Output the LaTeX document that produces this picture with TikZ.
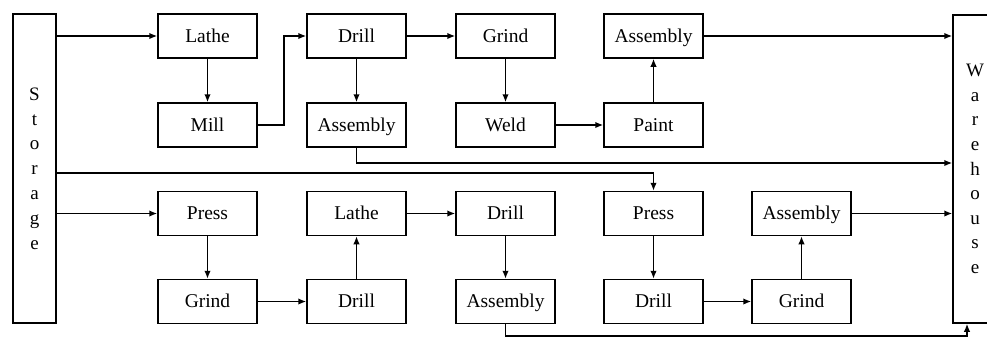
\documentclass[tikz,border=0pt]{standalone}
\usepackage{fontspec}
\setmainfont{Liberation Serif}
\usetikzlibrary{arrows.meta}
\begin{document}
\begin{tikzpicture}[x=1pt,y=-1pt,
  box/.style={draw, line width=1.5pt, minimum width=99pt, minimum height=44pt, inner sep=0pt, text height=14.5pt, text depth=2pt, font=\fontsize{19.5}{21}\selectfont},
  tall/.style={draw, line width=1.5pt, inner sep=0pt, align=center},
  arr/.style={line width=1.5pt, -{Latex[length=8pt,width=6.5pt]}}]
\useasboundingbox (0,0) rectangle (987,338);
\clip (0,0) rectangle (987,338);
% storage and warehouse
\node[tall, minimum width=43pt, minimum height=309pt, font=\fontsize{19}{24.8}\selectfont] (st) at (34.5,168.5) {S\\t\\o\\r\\a\\g\\e};
\node[tall, minimum width=44pt, minimum height=308pt, font=\fontsize{19}{24.6}\selectfont] (wh) at (975,169) {W\\a\\r\\e\\h\\o\\u\\s\\e};
% row 1
\node[box] (L1) at (207.5,36) {Lathe};
\node[box] (D1) at (356.5,36) {Drill};
\node[box] (G1) at (505.5,36) {Grind};
\node[box] (A1) at (653.5,36) {Assembly};
% row 2
\node[box] (M2) at (207.5,125) {Mill};
\node[box] (A2) at (356.5,125) {Assembly};
\node[box] (W2) at (505.5,125) {Weld};
\node[box] (P2) at (653.5,125) {Paint};
% row 3
\node[box] (P3) at (207.5,213.5) {Press};
\node[box] (L3) at (356.5,213.5) {Lathe};
\node[box] (D3) at (505.5,213.5) {Drill};
\node[box] (Q3) at (653.5,213.5) {Press};
\node[box] (A3) at (801.5,213.5) {Assembly};
% row 4
\node[box] (G4) at (207.5,301.5) {Grind};
\node[box] (D4) at (356.5,301.5) {Drill};
\node[box] (A4) at (505.5,301.5) {Assembly};
\node[box] (R4) at (653.5,301.5) {Drill};
\node[box] (G5) at (801.5,301.5) {Grind};
% helper coordinates
\coordinate (y163) at (0,163);
\coordinate (y173) at (0,173);
\coordinate (bot) at (967,336);
% top line
\draw[arr] (st.east |- L1.west) -- (L1.west);
\draw[arr] (L1) -- (M2);
\draw[arr] (M2.east) -- ++(26,0) |- (D1.west);
\draw[arr] (D1) -- (G1);
\draw[arr] (D1) -- (A2);
\draw[arr] (G1) -- (W2);
\draw[arr] (W2) -- (P2);
\draw[arr] (P2) -- (A1);
\draw[arr] (A1.east) -- (wh.west |- A1.east);
\draw[arr] (A2.south) |- (wh.west |- y163);
% bottom line
\draw[arr] (st.east |- y173) -| (Q3.north);
\draw[arr] (st.east |- P3.west) -- (P3.west);
\draw[arr] (P3) -- (G4);
\draw[arr] (G4) -- (D4);
\draw[arr] (D4) -- (L3);
\draw[arr] (L3) -- (D3);
\draw[arr] (D3) -- (A4);
\draw[arr] (Q3) -- (R4);
\draw[arr] (R4) -- (G5);
\draw[arr] (G5) -- (A3);
\draw[arr] (A3.east) -- (wh.west |- A3.east);
\draw[arr] (A4.south) |- (bot) -- (wh.south -| bot);
\end{tikzpicture}
\end{document}
